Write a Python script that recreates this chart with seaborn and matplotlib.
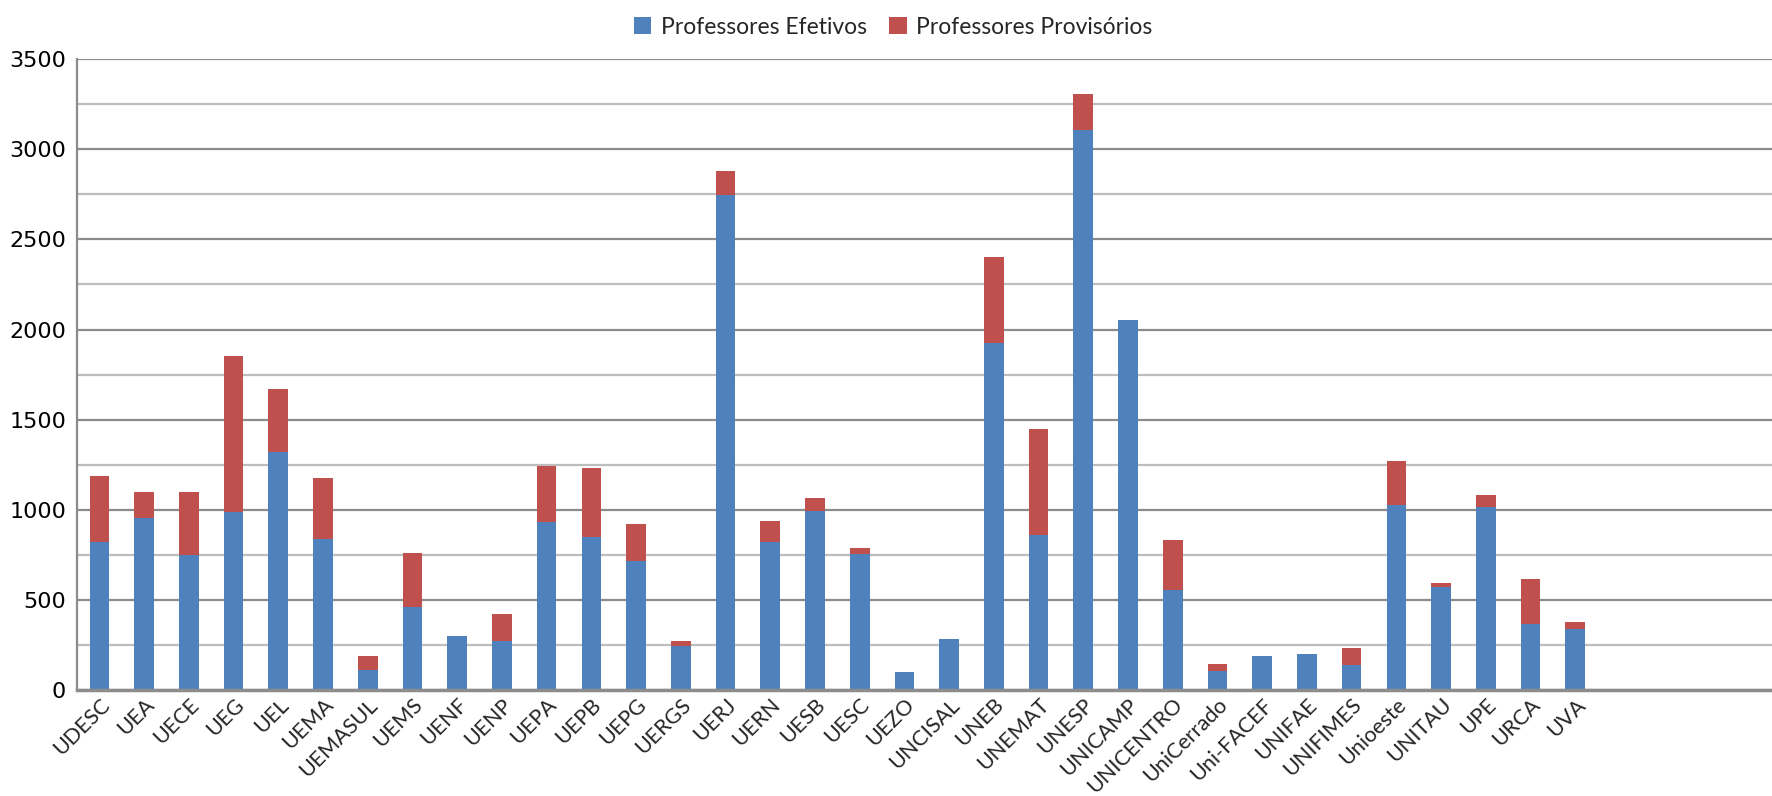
import matplotlib
matplotlib.use("Agg")
import matplotlib.pyplot as plt
import seaborn as sns
import pandas as pd
from matplotlib.patches import Patch
from matplotlib.ticker import MultipleLocator

categories = ["UDESC", "UEA", "UECE", "UEG", "UEL", "UEMA", "UEMASUL", "UEMS", "UENF", "UENP",
              "UEPA", "UEPB", "UEPG", "UERGS", "UERJ", "UERN", "UESB", "UESC", "UEZO", "UNCISAL",
              "UNEB", "UNEMAT", "UNESP", "UNICAMP", "UNICENTRO", "UniCerrado", "Uni-FACEF", "UNIFAE",
              "UNIFIMES", "Unioeste", "UNITAU", "UPE", "URCA", "UVA"]
efetivos = [824, 955, 750, 987, 1323, 838, 116, 461, 300, 272,
            936, 852, 717, 249, 2748, 820, 997, 755, 100, 284,
            1924, 862, 3107, 2054, 554, 107, 189, 200,
            140, 1029, 571, 1018, 370, 342]
provisorios = [366, 146, 351, 869, 349, 340, 73, 298, 0, 154,
               305, 378, 203, 23, 130, 121, 72, 37, 0, 0,
               477, 589, 198, 0, 277, 37, 0, 0,
               93, 245, 27, 67, 245, 40]
series_names = ["Professores Efetivos", "Professores Provisórios"]

BLUE = "#4F81BD"
RED = "#C0504D"

df = pd.DataFrame({"cat": categories, "efetivos": efetivos, "provisorios": provisorios})
df["total"] = df["efetivos"] + df["provisorios"]

sns.set_theme(style="white")
plt.rcParams["font.family"] = ["Lato", "DejaVu Sans"]

fig = plt.figure(figsize=(17.72, 7.96), dpi=100)
ax = fig.add_axes([0.0435, 0.1326, 0.9565, 0.7935])

sns.barplot(data=df, x="cat", y="total", order=categories, color=RED, saturation=1,
            width=0.44, ax=ax, zorder=3, linewidth=0, edgecolor="none")
sns.barplot(data=df, x="cat", y="efetivos", order=categories, color=BLUE, saturation=1,
            width=0.44, ax=ax, zorder=4, linewidth=0, edgecolor="none")

ax.set_xlim(-0.5, 37.4)
ax.set_ylim(0, 3500)
ax.yaxis.set_major_locator(MultipleLocator(500))
ax.yaxis.set_minor_locator(MultipleLocator(250))
ax.grid(which="major", axis="y", color="#8c8c8c", linewidth=1.6, zorder=0)
ax.grid(which="minor", axis="y", color="#bdbdbd", linewidth=1.6, zorder=0)
ax.grid(axis="x", visible=False)
ax.set_axisbelow(True)
ax.set_xlabel("")
ax.set_ylabel("")

for s in ["top", "right"]:
    ax.spines[s].set_visible(False)
ax.spines["left"].set_color("#8c8c8c")
ax.spines["left"].set_linewidth(1.6)
ax.spines["bottom"].set_color("#8c8c8c")
ax.spines["bottom"].set_linewidth(2.5)
ax.spines["bottom"].set_zorder(5)

ax.tick_params(axis="y", labelsize=16, length=0, pad=8, colors="#000000")
ax.tick_params(axis="x", labelsize=15.5, length=0, pad=3)
for lab in ax.get_yticklabels():
    lab.set_family(["DejaVu Sans"])
plt.setp(ax.get_xticklabels(), rotation=45, ha="right", rotation_mode="anchor")

handles = [Patch(facecolor=BLUE, edgecolor="none"), Patch(facecolor=RED, edgecolor="none")]
fig.legend(handles, series_names, loc="upper center", bbox_to_anchor=(0.504, 1.005), ncol=2,
           frameon=False, fontsize=16.5, handlelength=0.75, handleheight=0.75,
           handletextpad=0.4, columnspacing=1.0)

fig.savefig("out.png", dpi=100, facecolor="white")
